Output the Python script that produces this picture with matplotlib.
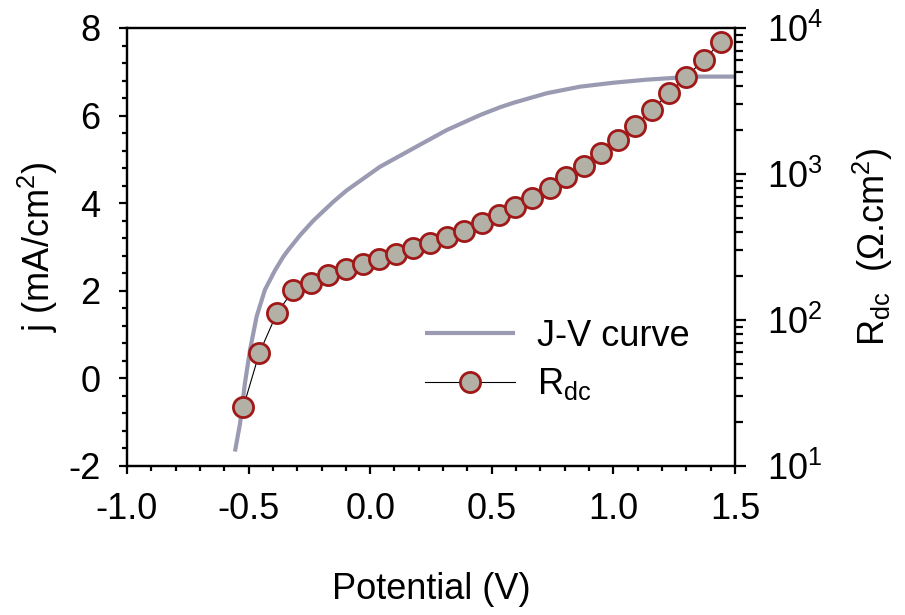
import matplotlib
matplotlib.use("Agg")
import matplotlib.pyplot as plt
from matplotlib.ticker import MultipleLocator, LogLocator, NullFormatter

plt.rcParams["font.family"] = ["Liberation Sans", "DejaVu Sans"]
plt.rcParams["mathtext.fontset"] = "custom"
plt.rcParams["mathtext.rm"] = "Liberation Sans"
plt.rcParams["mathtext.it"] = "Liberation Sans"
plt.rcParams["axes.unicode_minus"] = False

# J-V curve
jv_potential = [-0.556, -0.535, -0.515, -0.494, -0.467, -0.433, -0.391, -0.357,
                -0.337, -0.288, -0.234, -0.152, -0.097, 0.040, 0.177, 0.315,
                0.451, 0.534, 0.588, 0.726, 0.863, 1.000, 1.137, 1.274,
                1.343, 1.500]
jv_current = [-1.67, -1.03, -0.11, 0.65, 1.41, 2.02, 2.47, 2.78,
              2.93, 3.27, 3.60, 4.03, 4.29, 4.83, 5.25, 5.67,
              6.01, 6.19, 6.29, 6.51, 6.66, 6.75, 6.82, 6.87,
              6.89, 6.89]

# R_dc points
rdc_potential = [-0.522, -0.456, -0.384, -0.316, -0.243, -0.172, -0.100, -0.030,
                 0.038, 0.107, 0.178, 0.247, 0.316, 0.384, 0.459, 0.528,
                 0.597, 0.665, 0.738, 0.807, 0.878, 0.950, 1.019, 1.088,
                 1.159, 1.228, 1.300, 1.372, 1.443]
rdc_values = [25.2, 59.2, 111, 160, 178, 203, 222, 242,
              261, 283, 310, 338, 371, 409, 464, 523,
              597, 682, 798, 959, 1140, 1387, 1711, 2133,
              2742, 3570, 4650, 6040, 8050]

fig = plt.figure(figsize=(9.05, 6.15), dpi=100)
ax = fig.add_axes([0.1403, 0.2423, 0.6718, 0.7122])
ax2 = ax.twinx()

jv_line, = ax.plot(jv_potential, jv_current, color="#9a9bb2", lw=3,
                   solid_capstyle="butt", label="J-V curve")
rdc_line, = ax2.plot(rdc_potential, rdc_values, color="black", lw=0.8,
                     marker="o", ms=14.5, mfc="#b3b0a6", mec="#a01818", mew=2,
                     label=r"$\mathregular{R_{dc}}$")

ax.set_xlim(-1.0, 1.5)
ax.set_ylim(-2, 8)
ax2.set_yscale("log")
ax2.set_ylim(10, 1e4)

ax.xaxis.set_major_locator(MultipleLocator(0.5))
ax.xaxis.set_minor_locator(MultipleLocator(0.1))
ax.yaxis.set_major_locator(MultipleLocator(2))
ax.yaxis.set_minor_locator(MultipleLocator(0.4))
ax.xaxis.set_major_formatter(matplotlib.ticker.FormatStrFormatter("%.1f"))
ax2.yaxis.set_minor_locator(LogLocator(base=10, subs=range(2, 10)))
ax2.yaxis.set_minor_formatter(NullFormatter())

for a in (ax, ax2):
    for s in a.spines.values():
        s.set_linewidth(1.6)
ax.tick_params(axis="both", which="major", direction="out", length=6,
               width=1.6, labelsize=26, pad=13)
ax.tick_params(axis="both", which="minor", direction="out", length=3.5, width=1.6)
ax2.tick_params(axis="y", which="major", direction="out", length=8, width=1.6,
                labelsize=26, pad=15)
ax2.tick_params(axis="y", which="minor", direction="out", length=6, width=1.6)

ax.set_xlabel("Potential (V)", fontsize=26, labelpad=32)
ax.set_ylabel(r"j (mA/cm$^{\mathregular{2}}$)", fontsize=26, labelpad=6)
ax2.set_ylabel(r"$\mathregular{R_{dc}}$  ($\mathregular{\Omega}$.cm$^{\mathregular{2}}$)",
               fontsize=26, labelpad=20)

ax2.legend(handles=[jv_line, rdc_line], loc="upper left",
           bbox_to_anchor=(0.4696, 0.4820), bbox_transform=fig.transFigure,
           frameon=False, fontsize=26, handlelength=2.5, handletextpad=0.6,
           borderpad=0, borderaxespad=0, labelspacing=0.35)

fig.savefig("out.png", dpi=100)
